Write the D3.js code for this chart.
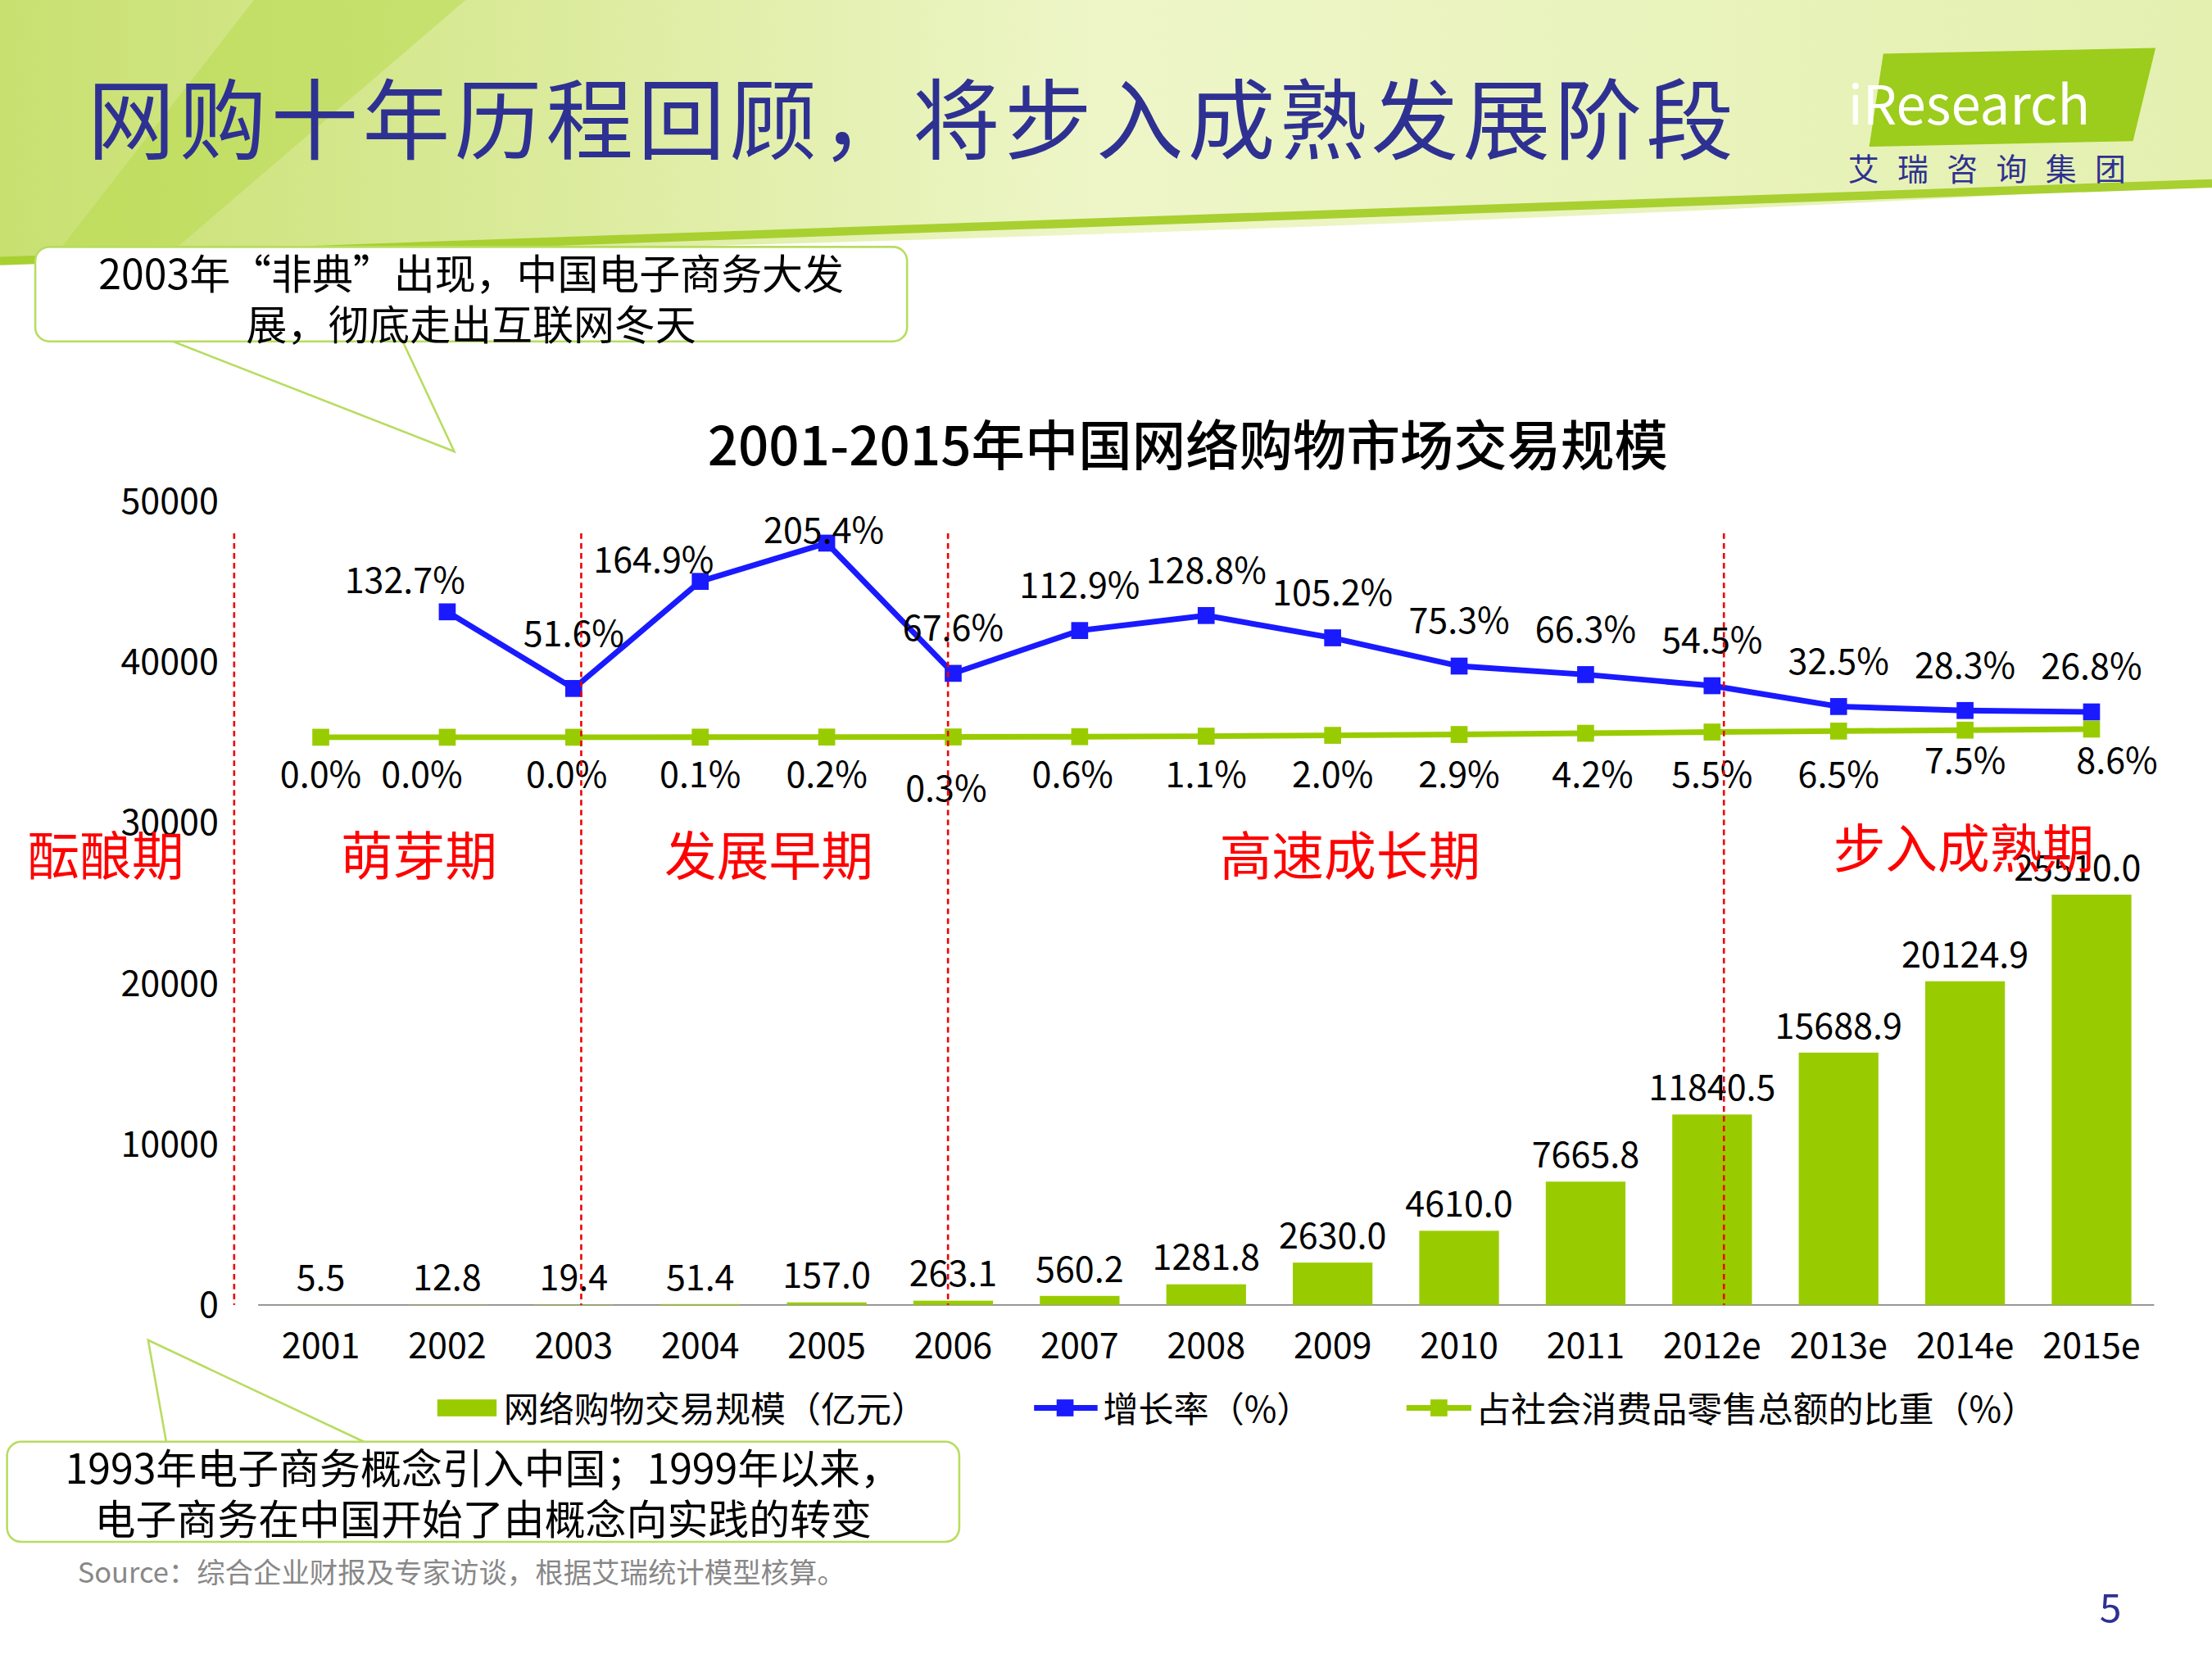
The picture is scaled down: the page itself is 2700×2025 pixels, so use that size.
<!DOCTYPE html>
<html><head><meta charset="utf-8">
<script src="https://cdn.jsdelivr.net/npm/d3@7"></script>
<style>body{margin:0;background:#fff}text{font-family:"Noto Sans CJK SC","Noto Sans",sans-serif}</style>
</head><body>
<svg id="c" width="2700" height="2025" viewBox="0 0 1568 1176"></svg>
<script>
var years = ["2001","2002","2003","2004","2005","2006","2007","2008","2009","2010","2011","2012e","2013e","2014e","2015e"];
var scale = [5.5,12.8,19.4,51.4,157.0,263.1,560.2,1281.8,2630.0,4610.0,7665.8,11840.5,15688.9,20124.9,25510.0];
var growth = [null,132.7,51.6,164.9,205.4,67.6,112.9,128.8,105.2,75.3,66.3,54.5,32.5,28.3,26.8];
var share = [0.0,0.0,0.0,0.1,0.2,0.3,0.6,1.1,2.0,2.9,4.2,5.5,6.5,7.5,8.6];
var yTicks = [0,10000,20000,30000,40000,50000];
var stages = [["酝酿期",75,605],["萌芽期",297,605],["发展早期",545,605],["高速成长期",957,605],["步入成熟期",1392,600]];
var dividers = [166,412,672,1222];

var svg = d3.select("#c");
var green = "#99cc00", blue = "#1a1aff";

// header
var defs = svg.append("defs");
var gr = defs.append("linearGradient").attr("id","hg").attr("x1","0").attr("x2","1");
gr.append("stop").attr("offset","0").attr("stop-color","#c8e070");
gr.append("stop").attr("offset","0.5").attr("stop-color","#eef6c8");
gr.append("stop").attr("offset","1").attr("stop-color","#e4f0b0");
svg.append("path").attr("d","M0,0H1568V130Q900,170 0,185Z").attr("fill","url(#hg)");
svg.append("path").attr("d","M0,185Q900,150 1568,130").attr("fill","none").attr("stroke","#a8d030").attr("stroke-width",6);
svg.append("path").attr("d","M180,0L330,0L120,180L40,180Z").attr("fill","#b5d94a").attr("opacity",0.5);
svg.append("text").attr("x",62).attr("y",108).attr("font-size",62).attr("letter-spacing",3).attr("fill","#2e3192").text("网购十年历程回顾，将步入成熟发展阶段");
svg.append("path").attr("d","M1335,38L1528,34L1512,100L1325,104Z").attr("fill","#9ccc1c");
svg.append("text").attr("x",1310).attr("y",88).attr("font-size",38).attr("fill","#fff").attr("font-family","Inter,sans-serif").text("iResearch");
svg.append("text").attr("x",1310).attr("y",128).attr("font-size",22).attr("fill","#2e3192").attr("letter-spacing",13).text("艾瑞咨询集团");

// callouts
function callout(x,y,w,h,tail,lines){
  svg.append("path").attr("d",tail).attr("fill","#fff").attr("stroke","#b8dc60").attr("stroke-width",1.5);
  svg.append("rect").attr("x",x).attr("y",y).attr("width",w).attr("height",h).attr("rx",10).attr("fill","#fff").attr("stroke","#b8dc60").attr("stroke-width",1.5);
  lines.forEach(function(t,i){svg.append("text").attr("x",x+w/2).attr("y",y+30+i*36).attr("text-anchor","middle").attr("font-size",29).attr("fill","#000").text(t);});
}
callout(25,175,618,67,"M120,241L322,320L285,241Z",["2003年“非典”出现，中国电子商务大发","展，彻底走出互联网冬天"]);
callout(5,1022,675,71,"M105,950L118,1023L260,1023Z",["1993年电子商务概念引入中国；1999年以来，","电子商务在中国开始了由概念向实践的转变"]);

svg.append("text").attr("x",842).attr("y",330).attr("text-anchor","middle").attr("font-size",38).attr("font-weight",500).text("2001-2015年中国网络购物市场交易规模");

var x = d3.scaleBand().domain(years).range([183,1527]).paddingInner(0.37).paddingOuter(0.18);
var y = d3.scaleLinear().domain([0,50000]).range([925,355]);
var y2 = d3.scaleLinear().domain([0,205.4]).range([522.6,385]);
var cx = function(d,i){return x(years[i])+x.bandwidth()/2;};

yTicks.forEach(function(t){svg.append("text").attr("x",155).attr("y",y(t)+9).attr("text-anchor","end").attr("font-size",25).attr("font-family","Liberation Sans,sans-serif").text(t);});
svg.append("line").attr("x1",183).attr("x2",1527).attr("y1",925).attr("y2",925).attr("stroke","#888");
years.forEach(function(d,i){svg.append("text").attr("x",cx(d,i)).attr("y",963).attr("text-anchor","middle").attr("font-size",25).attr("font-family","Liberation Sans,sans-serif").text(d);});

svg.selectAll(".bar").data(scale).enter().append("rect")
  .attr("x",function(d,i){return x(years[i]);}).attr("width",x.bandwidth())
  .attr("y",function(d){return y(d);}).attr("height",function(d){return 925-y(d);}).attr("fill",green);
svg.selectAll(".bl").data(scale).enter().append("text")
  .attr("x",function(d,i){return cx(d,i)+(i==14?-10:0);}).attr("y",function(d){return y(d)-10;}).attr("text-anchor","middle").attr("font-size",25).attr("font-family","Liberation Sans,sans-serif").text(function(d){return d.toFixed(1);});

// share line
var ln = d3.line().x(function(d){return d[0];}).y(function(d){return d[1];});
var sp = share.map(function(d,i){return [cx(d,i),y2(d)];});
svg.append("path").attr("d",ln(sp)).attr("fill","none").attr("stroke",green).attr("stroke-width",4);
sp.forEach(function(p){svg.append("rect").attr("x",p[0]-6).attr("y",p[1]-6).attr("width",12).attr("height",12).attr("fill",green);});
var sdx = [0,-18,-5,0,0,-5,-5,0,0,0,5,0,0,0,18];
var sdy = [558,558,558,558,558,568,558,558,558,558,558,558,558,548,548];
share.forEach(function(d,i){svg.append("text").attr("x",cx(d,i)+sdx[i]).attr("y",sdy[i]).attr("text-anchor","middle").attr("font-size",25).attr("font-family","Liberation Sans,sans-serif").text(d.toFixed(1)+"%");});

// growth line
var gp = []; growth.forEach(function(d,i){if(d!==null)gp.push([cx(d,i),y2(d)]);});
svg.append("path").attr("d",ln(gp)).attr("fill","none").attr("stroke",blue).attr("stroke-width",4);
gp.forEach(function(p){svg.append("rect").attr("x",p[0]-6).attr("y",p[1]-6).attr("width",12).attr("height",12).attr("fill",blue);});
var gdx = [0,-30,0,-33,-2,0,0,0,0,0,0,0,0,0,0];
var gdy = [0,-13,0,-6,0,-23,-23,-23,-23,-23,-23,-23,-23,-23,-23];
growth.forEach(function(d,i){if(d===null)return;svg.append("text").attr("x",cx(d,i)+gdx[i]).attr("y",(i==2?458:y2(d)+gdy[i])).attr("text-anchor","middle").attr("font-size",25).attr("font-family","Liberation Sans,sans-serif").text(d.toFixed(1)+"%");});

// stages
dividers.forEach(function(d){svg.append("line").attr("x1",d).attr("x2",d).attr("y1",378).attr("y2",925).attr("stroke","#e00").attr("stroke-width",1.5).attr("stroke-dasharray","4,3");});
stages.forEach(function(s){svg.append("text").attr("x",s[1]).attr("y",s[2]+15).attr("text-anchor","middle").attr("font-size",37).attr("fill","#ff0000").text(s[0]);});

// legend
var lg = svg.append("g");
lg.append("rect").attr("x",310).attr("y",992).attr("width",42).attr("height",12).attr("fill",green);
lg.append("text").attr("x",357).attr("y",1008).attr("font-size",25).text("网络购物交易规模（亿元）");
lg.append("line").attr("x1",733).attr("x2",778).attr("y1",998).attr("y2",998).attr("stroke",blue).attr("stroke-width",4);
lg.append("rect").attr("x",749).attr("y",992).attr("width",12).attr("height",12).attr("fill",blue);
lg.append("text").attr("x",782).attr("y",1008).attr("font-size",25).text("增长率（%）");
lg.append("line").attr("x1",997).attr("x2",1043).attr("y1",998).attr("y2",998).attr("stroke",green).attr("stroke-width",4);
lg.append("rect").attr("x",1014).attr("y",992).attr("width",12).attr("height",12).attr("fill",green);
lg.append("text").attr("x",1046).attr("y",1008).attr("font-size",25).text("占社会消费品零售总额的比重（%）");

svg.append("text").attr("x",55).attr("y",1122).attr("font-size",20).attr("fill","#888").text("Source：综合企业财报及专家访谈，根据艾瑞统计模型核算。");
svg.append("text").attr("x",1496).attr("y",1150).attr("text-anchor","middle").attr("font-size",28).attr("fill","#2e3192").text("5");
</script>
</body></html>
